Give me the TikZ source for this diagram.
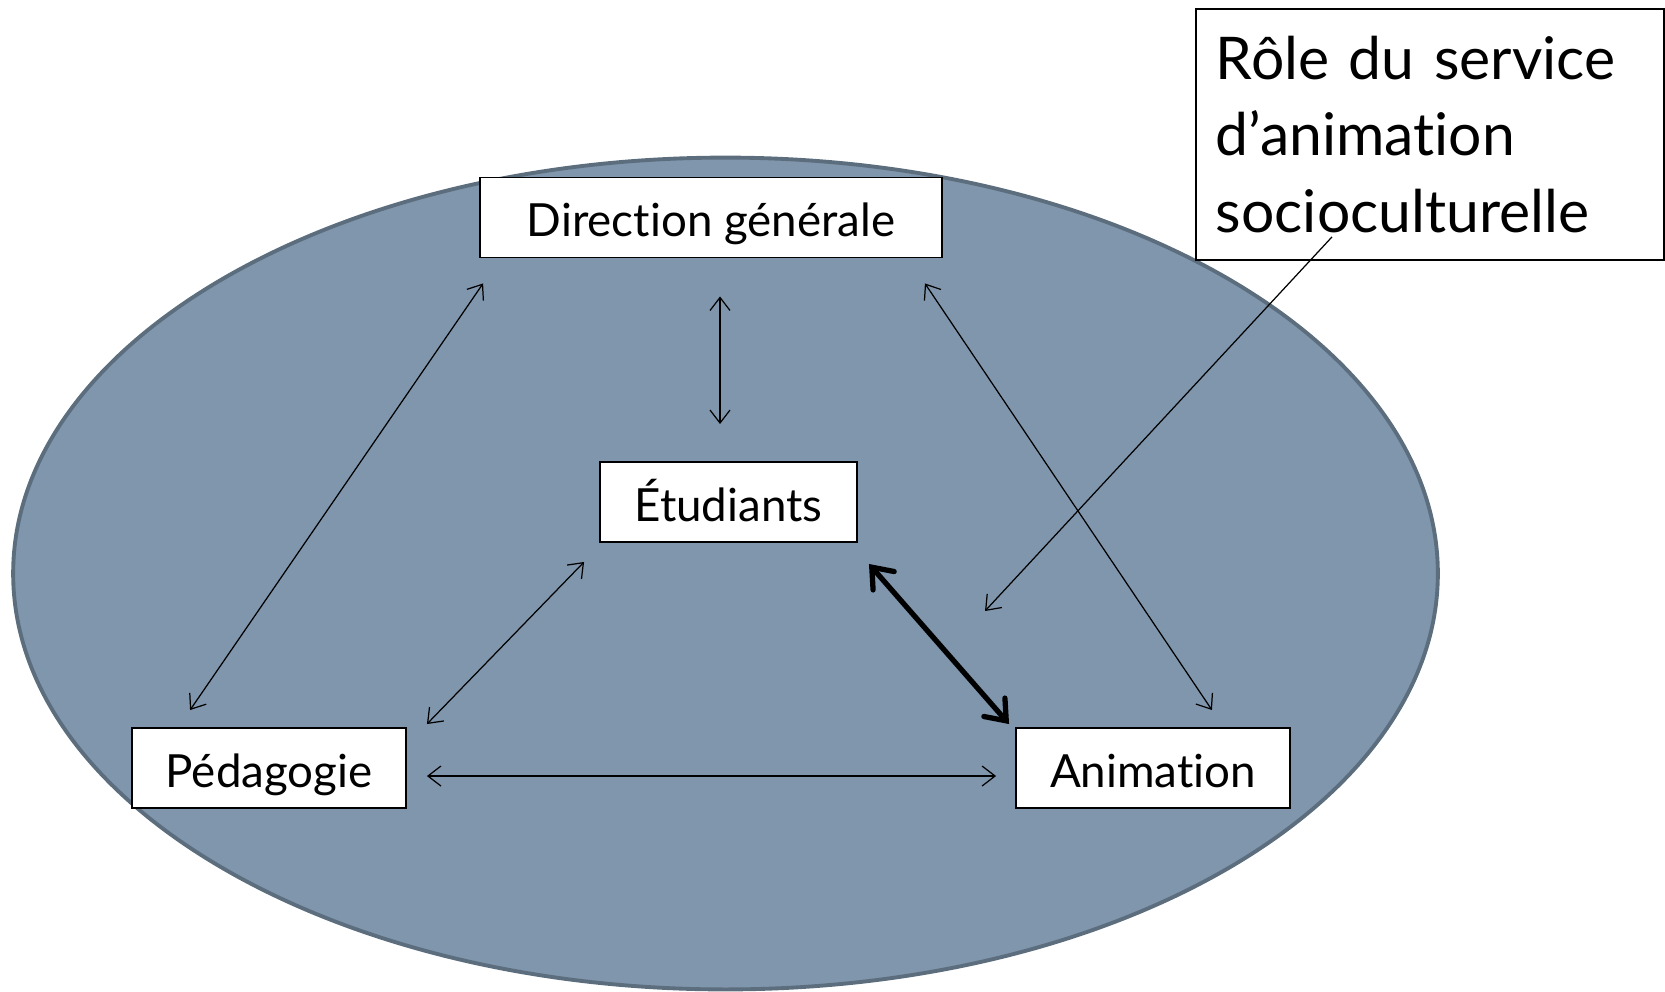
\documentclass[tikz,border=0pt]{standalone}
\usepackage{fontspec}
\setmainfont[Ligatures={NoCommon}]{Lato}
\usetikzlibrary{arrows.meta, positioning, calc}

\definecolor{ovalfill}{RGB}{127,150,173}
\definecolor{ovalline}{RGB}{92,110,126}

\begin{document}
\begin{tikzpicture}[
    x=0.02cm, y=-0.02cm,
    box/.style    ={rectangle,draw,fill=white, line width=1.1pt, font=\fontsize{26}{30}\selectfont, minimum height=1.6cm, text height=23pt, text depth=1pt},
    note/.style   ={rectangle,draw,fill=white, line width=1.1pt, font=\fontsize{33.5}{43.5}\selectfont, align=left, text width=8.56cm, inner xsep=0.4cm, minimum height=5.02cm, anchor=north west},
    arrow/.style  ={{Straight Barb[length=2.6mm,width=4mm]}-{Straight Barb[length=2.6mm,width=4mm]}, line width=0.7pt},
    bold/.style   ={{Straight Barb[length=3.6mm,width=5.6mm,line cap=round]}-{Straight Barb[length=3.6mm,width=5.6mm,line cap=round]}, line width=3pt},
    pointer/.style={-{Straight Barb[length=2.6mm,width=4mm]}, line width=0.7pt},
    ]
    \useasboundingbox (0,0) rectangle (1665,991);

    % --- Background oval ---
    \draw[ovalline, fill=ovalfill, line width=2.2pt] (725.5,573.5) ellipse [x radius=14.25cm, y radius=8.32cm];

    % --- Actors ---
    \node[box, minimum width=9.24cm] (dir) at (711,217.5) {Direction générale};
    \node[box, minimum width=5.14cm] (etu) at (728.5,502) {Étudiants};
    \node[box, minimum width=5.48cm] (ped) at (269,768) {Pédagogie};
    \node[box, minimum width=5.48cm] (ani) at (1153,768) {Animation};

    % Callout box
    \node[note] (role) at (1195,8) {Rôle du service\\d’animation\\socioculturelle};
    \coordinate (cible) at (985,611);

    % --- Connections ---
    \draw[arrow] ([shift={(4,25)}]dir.south west) -- ([shift={(59,-17)}]ped.north west);
    \draw[arrow] ([shift={(9,38)}]dir.south) -- ([shift={(-8.5,-37)}]etu.north);
    \draw[arrow] ([shift={(-18,25)}]dir.south east) -- ([shift={(-79,-17)}]ani.north east);
    \draw[arrow] ([shift={(-15,19)}]etu.south west) -- ([shift={(20,-3)}]ped.north east);
    \draw[bold] ([shift={(11,21)}]etu.south east) -- ([shift={(-6,-3)}]ani.north west);
    \draw[arrow] ([shift={(20,8)}]ped.east) -- ([shift={(-19,8)}]ani.west);

    % Callout pointer
    \draw[pointer] ([shift={(137,-24)}]role.south west) -- (cible);

\end{tikzpicture}
\end{document}
